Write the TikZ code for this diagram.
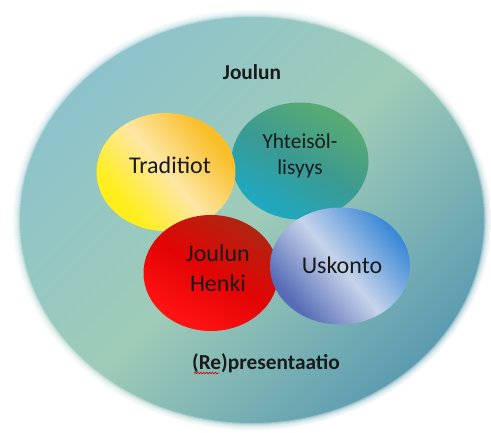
\documentclass[tikz,border=0pt]{standalone}
\usepackage{fontspec}
\setmainfont{Carlito}
\usetikzlibrary{shapes.geometric,decorations.pathmorphing}

% colours of the background field and the four topic ellipses
\definecolor{fieldA}{HTML}{8CC2CC}
\definecolor{fieldB}{HTML}{9FCCB8}
\definecolor{fieldC}{HTML}{5A9AB0}
\definecolor{yelA}{HTML}{FFEE1E}
\definecolor{yelB}{HTML}{FDE7A4}
\definecolor{yelC}{HTML}{F9BE2A}
\definecolor{tealA}{HTML}{1FA8C0}
\definecolor{tealB}{HTML}{3B9A92}
\definecolor{tealC}{HTML}{58AA74}
\definecolor{redA}{HTML}{FF1212}
\definecolor{redB}{HTML}{E20404}
\definecolor{redC}{HTML}{B02512}
\definecolor{bluA}{HTML}{566CB6}
\definecolor{bluB}{HTML}{C6D3EA}
\definecolor{bluC}{HTML}{3887D6}
\definecolor{ink}{HTML}{1A1A1A}

\pgfdeclarehorizontalshading{fieldshade}{100bp}{color(0bp)=(fieldA); color(25bp)=(fieldA); color(50bp)=(fieldB); color(75bp)=(fieldC); color(100bp)=(fieldC)}
\pgfdeclarehorizontalshading{yellowshade}{100bp}{color(0bp)=(yelA); color(30bp)=(yelA); color(50bp)=(yelB); color(72bp)=(yelC); color(100bp)=(yelC)}
\pgfdeclarehorizontalshading{tealshade}{100bp}{color(0bp)=(tealA); color(27bp)=(tealA); color(50bp)=(tealB); color(73bp)=(tealC); color(100bp)=(tealC)}
\pgfdeclarehorizontalshading{redshade}{100bp}{color(0bp)=(redA); color(28bp)=(redA); color(50bp)=(redB); color(75bp)=(redC); color(100bp)=(redC)}
\pgfdeclarehorizontalshading{blueshade}{100bp}{color(0bp)=(bluA); color(27bp)=(bluA); color(50bp)=(bluB); color(75bp)=(bluC); color(100bp)=(bluC)}

\begin{document}
\begin{tikzpicture}[x=0.75pt,y=-0.75pt,
  every node/.style={inner sep=0pt},
  blob/.style={ellipse, shade},
  lbl/.style={text=ink, font=\fontsize{18}{22.5}\selectfont, align=center},
  heading/.style={text=ink, font=\fontsize{16}{19}\selectfont\bfseries}]
\useasboundingbox (0,0) rectangle (491,432);

% background field with a soft white rim
\node[blob, minimum width=358.5pt, minimum height=315pt, shading=fieldshade, shading angle=-45] (field) at (252,220) {};
\foreach \w in {1.5,3,...,10.5}
  \draw[white, line width=\w pt, opacity=0.3] (field.center) ellipse [x radius=179.25pt, y radius=157.5pt];

% topic ellipses, back to front
\node[blob, minimum width=102.75pt, minimum height=87.75pt, shading=tealshade, shading angle=60] (yht) at (300,161) {};
\node[blob, minimum width=104.25pt, minimum height=88.5pt, shading=yellowshade, shading angle=40] (trad) at (166,172) {};
\node[blob, minimum width=101.25pt, minimum height=87pt, shading=redshade, shading angle=60] (henki) at (211,273) {};
\node[blob, minimum width=105pt, minimum height=87.75pt, shading=blueshade, shading angle=40] (usko) at (340,266) {};

% labels
\node[lbl] (tradtxt) at (170,165) {Traditiot};
\node[lbl, font=\fontsize{16}{19.5}\selectfont] (yhttxt) at (300,156) {Yhteisöl-\\lisyys};
\node[lbl] (henkitxt) at (218,268) {Joulun\\Henki};
\node[lbl] (uskotxt) at (342,265) {Uskonto};
\node[heading] (toptxt) at (252,72) {Joulun};
\node[heading] (bottxt) at (266,363) {(Re)presentaatio};

% spell-check squiggle under "Re"
\draw[red!85!black, line width=0.5pt, decorate, decoration={snake, amplitude=0.6pt, segment length=2.2pt}]
  (194,373) -- (219,373);
\end{tikzpicture}
\end{document}
